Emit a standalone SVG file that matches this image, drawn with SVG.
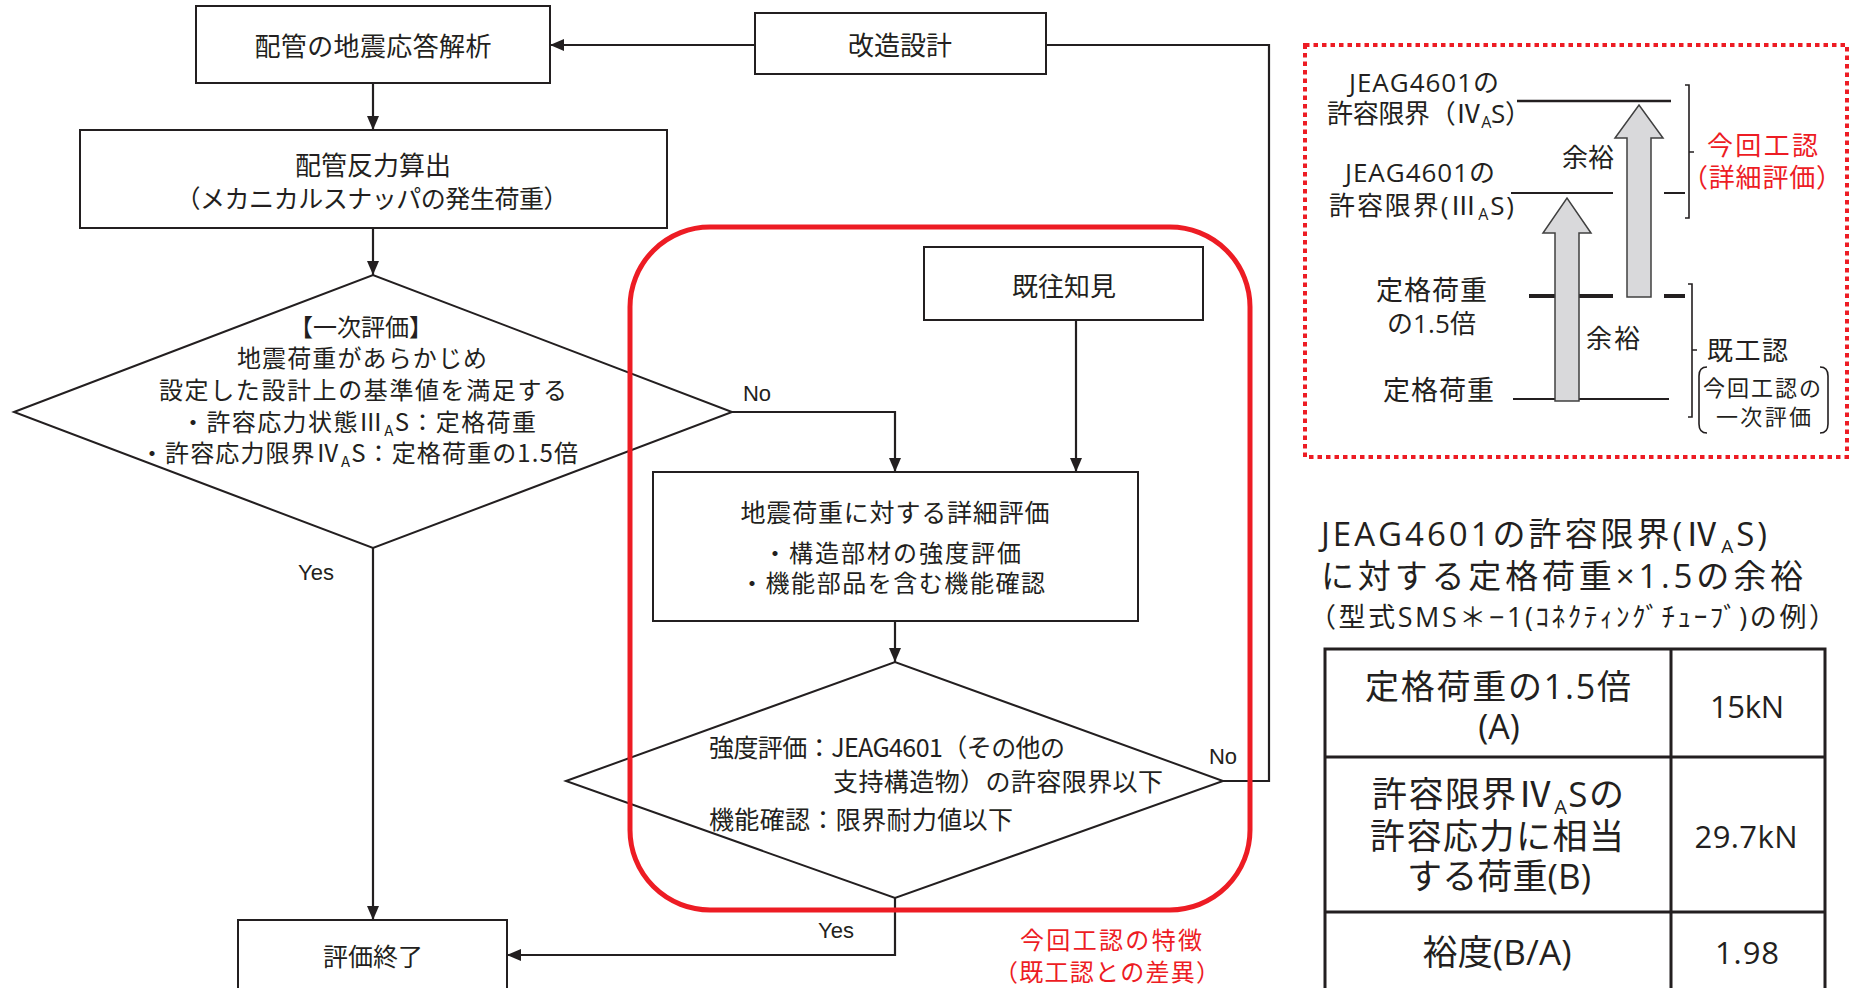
<svg xmlns="http://www.w3.org/2000/svg" width="1850" height="988" viewBox="0 0 1850 988">
<defs>
<style>
.box{fill:#fff;stroke:#231f20;stroke-width:2}
.t{font-family:"Noto Sans CJK JP",sans-serif;fill:#231f20}
.l{font-family:"Liberation Sans",Arial,sans-serif;fill:#231f20;font-size:22px}
.o{font-family:"Open Sans","Noto Sans CJK JP",sans-serif;fill:#231f20}
.c{stroke:#231f20;stroke-width:2.2;fill:none}
.ln{stroke:#231f20;fill:none}
.ga{fill:#d9d9db;stroke:#404040;stroke-width:1.5}
.m{text-anchor:middle}
</style>
<marker id="ah" markerUnits="userSpaceOnUse" markerWidth="14" markerHeight="12" refX="14" refY="6" orient="auto">
<path d="M0,0 L14,6 L0,12 z" fill="#231f20"/>
</marker>
</defs>
<rect width="1850" height="988" fill="#fff"/>

<g id="connectors">
<path class="c" d="M373,83 V130" marker-end="url(#ah)"/>
<path class="c" d="M373,228 V275" marker-end="url(#ah)"/>
<path class="c" d="M373,548 V920" marker-end="url(#ah)"/>
<path class="c" d="M732,412 H895 V472" marker-end="url(#ah)"/>
<path class="c" d="M1076,320 V472" marker-end="url(#ah)"/>
<path class="c" d="M895,621 V662" marker-end="url(#ah)"/>
<path class="c" d="M895,898 V955 H507" marker-end="url(#ah)"/>
<path class="c" d="M1223,781 H1269 V45 H1046"/>
<path class="c" d="M755,45 H550" marker-end="url(#ah)"/>
<text class="l m" x="757" y="401">No</text>
<text class="l m" x="316" y="580">Yes</text>
<text class="l m" x="836" y="938">Yes</text>
<text class="l m" x="1223" y="764">No</text>
</g>

<g id="node-seismic-analysis">
<rect class="box" x="196" y="6" width="354" height="77"/>
<text class="t m" x="373" y="56" font-size="26" textLength="237">配管の地震応答解析</text>
</g>

<g id="node-reaction">
<rect class="box" x="80" y="130" width="587" height="98"/>
<text class="t m" x="373" y="175" font-size="26" textLength="156">配管反力算出</text>
<text class="t m" x="372" y="208" font-size="25" textLength="393">（メカニカルスナッパの発生荷重）</text>
</g>

<g id="node-primary-eval">
<polygon class="box" points="14,412 373,275 732,412 373,548"/>
<text class="t m" x="361" y="336" font-size="24">【一次評価】</text>
<text class="t m" x="362" y="367" font-size="24" textLength="250">地震荷重があらかじめ</text>
<text class="t m" x="363" y="399" font-size="24" textLength="408">設定した設計上の基準値を満足する</text>
<text class="t" x="181" y="431" font-size="24" textLength="355">・許容応力状態Ⅲ<tspan font-size="15" dy="5">A</tspan><tspan dy="-5">S：定格荷重</tspan></text>
<text class="t" x="140" y="462" font-size="24" textLength="438">・許容応力限界Ⅳ<tspan font-size="15" dy="5">A</tspan><tspan dy="-5">S：定格荷重の1.5倍</tspan></text>
</g>

<g id="node-modify">
<rect class="box" x="755" y="13" width="291" height="61"/>
<text class="t m" x="900" y="55" font-size="26">改造設計</text>
</g>

<g id="node-knowledge">
<rect class="box" x="924" y="247" width="279" height="73"/>
<text class="t m" x="1064" y="296" font-size="26">既往知見</text>
</g>

<g id="node-detail">
<rect class="box" x="653" y="472" width="485" height="149"/>
<text class="t m" x="895" y="522" font-size="25" textLength="309">地震荷重に対する詳細評価</text>
<text class="t" x="763" y="562" font-size="24" textLength="258">・構造部材の強度評価</text>
<text class="t" x="740" y="592" font-size="24" textLength="305">・機能部品を含む機能確認</text>
</g>

<g id="node-criteria">
<polygon points="566,781 895,662 1223,781 895,898" fill="none" stroke="#231f20" stroke-width="2"/>
<text class="t" x="709" y="757" font-size="25" textLength="356">強度評価：JEAG4601（その他の</text>
<text class="t" x="833" y="791" font-size="25" textLength="330">支持構造物）の許容限界以下</text>
<text class="t" x="709" y="829" font-size="25" textLength="304">機能確認：限界耐力値以下</text>
</g>

<g id="node-end">
<rect class="box" x="238" y="920" width="269" height="100"/>
<text class="t m" x="373" y="966" font-size="25">評価終了</text>
</g>

<g id="highlight-frame">
<rect x="630" y="227" width="620" height="683" rx="80" ry="80" fill="none" stroke="#ed1c24" stroke-width="5"/>
<text class="t m" x="1111" y="949" font-size="24" textLength="182" style="fill:#ed1c24">今回工認の特徴</text>
<text class="t m" x="1107" y="981" font-size="24" textLength="226" style="fill:#ed1c24">（既工認との差異）</text>
</g>

<g id="margin-chart">
<rect x="1305" y="45" width="542" height="412" fill="none" stroke="#ed1c24" stroke-width="4" stroke-dasharray="4.5 4"/>
<path class="ln" stroke-width="2.5" d="M1517,101 H1671"/>
<path class="ln" stroke-width="2" d="M1511,193 H1613 M1664,193 H1685"/>
<path class="ln" stroke-width="4" d="M1529,296 H1613 M1664,296 H1685"/>
<path class="ln" stroke-width="2" d="M1513,399 H1669"/>
<polygon class="ga" points="1555,401 1555,233 1543,233 1567,198 1591,233 1579,233 1579,401"/>
<polygon class="ga" points="1627,297 1627,138 1615,138 1639,105 1663,138 1651,138 1651,297"/>
<path class="ln" stroke-width="1.6" d="M1685,85 H1689 V218 H1685 M1689,152 H1694"/>
<path class="ln" stroke-width="1.6" d="M1688,284 H1692 V417 H1688 M1692,350 H1697"/>
<path class="ln" stroke-width="1.6" d="M1707,367 Q1699,367 1699,376 V424 Q1699,433 1707,433 M1820,367 Q1828,367 1828,376 V424 Q1828,433 1820,433"/>
<text class="o" x="1349" y="92" font-size="26" textLength="150">JEAG4601の</text>
<text class="o" x="1327" y="123" font-size="26" textLength="204">許容限界（Ⅳ<tspan font-size="16" dy="5">A</tspan><tspan dy="-5">S）</tspan></text>
<text class="o" x="1345" y="182" font-size="26" textLength="150">JEAG4601の</text>
<text class="o" x="1329" y="215" font-size="26" textLength="185">許容限界(Ⅲ<tspan font-size="16" dy="5">A</tspan><tspan dy="-5">S)</tspan></text>
<text class="o" x="1376" y="300" font-size="27" textLength="111">定格荷重</text>
<text class="o" x="1387" y="333" font-size="26" textLength="89">の1.5倍</text>
<text class="o" x="1383" y="400" font-size="27" textLength="111">定格荷重</text>
<text class="o" x="1562" y="167" font-size="26" textLength="52">余裕</text>
<text class="o" x="1586" y="348" font-size="26" textLength="54">余裕</text>
<text class="o" x="1707" y="155" font-size="26" textLength="111" style="fill:#ed1c24">今回工認</text>
<text class="o" x="1682" y="187" font-size="26" textLength="160" style="fill:#ed1c24">（詳細評価）</text>
<text class="o" x="1707" y="360" font-size="26" textLength="81">既工認</text>
<text class="o" x="1703" y="396" font-size="22" textLength="118">今回工認の</text>
<text class="o" x="1716" y="425" font-size="22" textLength="95">一次評価</text>
</g>

<g id="margin-table">
<text class="o" x="1321" y="546" font-size="33" textLength="446">JEAG4601の許容限界(Ⅳ<tspan font-size="19" dy="7">A</tspan><tspan dy="-7">S)</tspan></text>
<text class="o" x="1321" y="588" font-size="33" textLength="482">に対する定格荷重×1.5の余裕</text>
<text class="o" x="1309" y="627" font-size="27" textLength="527">（型式SMS＊−1(ｺﾈｸﾃｨﾝｸﾞﾁｭｰﾌﾞ)の例）</text>
<path class="ln" stroke-width="3" d="M1325,1000 V649 H1825 V1000 M1671,649 V1000 M1325,757 H1825 M1325,912 H1825"/>
<text class="o m" x="1498" y="699" font-size="34" textLength="266">定格荷重の1.5倍</text>
<text class="o m" x="1499" y="739" font-size="34">(A)</text>
<text class="o m" x="1747" y="718" font-size="31" textLength="74">15kN</text>
<text class="o m" x="1498" y="807" font-size="35" textLength="252">許容限界Ⅳ<tspan font-size="20" dy="7">A</tspan><tspan dy="-7">Sの</tspan></text>
<text class="o m" x="1497" y="849" font-size="35" textLength="254">許容応力に相当</text>
<text class="o m" x="1499" y="889" font-size="35" textLength="184">する荷重(B)</text>
<text class="o m" x="1746" y="848" font-size="31" textLength="103">29.7kN</text>
<text class="o m" x="1497" y="965" font-size="35" textLength="149">裕度(B/A)</text>
<text class="o m" x="1747" y="964" font-size="31" textLength="64">1.98</text>
</g>
</svg>
